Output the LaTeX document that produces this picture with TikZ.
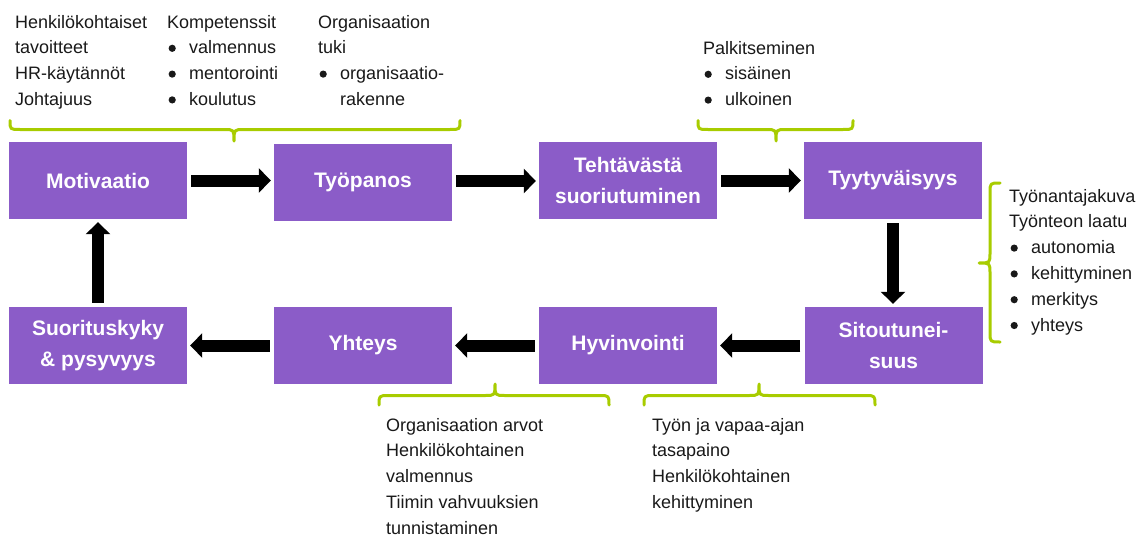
\documentclass[tikz,border=0pt]{standalone}
\usepackage{fontspec}
\setmainfont{Liberation Sans}
\usetikzlibrary{arrows.meta}
\definecolor{boxpurple}{RGB}{139,92,200}
\definecolor{bracegreen}{RGB}{168,204,0}
\definecolor{txt}{RGB}{25,25,25}
\newcommand\bul{\makebox[22pt][l]{\hspace{1.4pt}\raisebox{1.9pt}{\tikz\fill[txt] (0,0) circle (3.6pt);}}}
\newcommand\nob{\makebox[22pt][l]{}}
\newcommand\hbrace[6]{\draw[bracestyle] (#1,#4) .. controls (#1,#5) .. (#1+10,#5) -- (#3-10,#5) .. controls (#3,#5) .. (#3,#6) .. controls (#3,#5) .. (#3+10,#5) -- (#2-10,#5) .. controls (#2,#5) .. (#2,#4);}
\begin{document}
\begin{tikzpicture}[x=1pt,y=-1pt,
  box/.style={fill=boxpurple, minimum width=178pt, minimum height=77pt, inner sep=0pt, text=white, align=center, font=\fontsize{21}{31}\selectfont\bfseries},
  fat/.style={line width=12pt, -{Triangle[length=12pt,width=24pt]}, shorten <=4pt, shorten >=3pt},
  bracestyle/.style={draw=bracegreen, line width=3pt, line join=round, line cap=round},
  lbl/.style={inner sep=0pt, anchor=base west, align=left, text=txt, font=\fontsize{18}{25.8}\selectfont}]
\useasboundingbox (0,0) rectangle (1144,538);

% boxes
\node[box] (mot) at (98,180.5) {Motivaatio};
\node[box] (tyo) at (363,182.5) {Työpanos};
\node[box] (teh) at (628,180.5) {Tehtävästä\\suoriutuminen};
\node[box] (tyy) at (893,180.5) {Tyytyväisyys};
\node[box] (sit) at (893.5,345.5) {Sitoutunei-\\suus};
\node[box] (hyv) at (628,345.5) {Hyvinvointi};
\node[box] (yht) at (363,345.5) {Yhteys};
\node[box] (suo) at (98,345.5) {Suorituskyky\\\& pysyvyys};

% arrows
\draw[fat] (mot.east) -- (mot.east -| tyo.west);
\draw[fat] (tyo.east |- 0,181) -- (teh.west |- 0,181);
\draw[fat] (teh.east) -- (teh.east -| tyy.west);
\draw[fat] (tyy.south) -- (tyy.south |- sit.north);
\draw[fat] (sit.west) -- (sit.west -| hyv.east);
\draw[fat] (hyv.west) -- (hyv.west -| yht.east);
\draw[fat] (yht.west) -- (yht.west -| suo.east);
\draw[fat] (suo.north) -- (mot.south);

% braces
\hbrace{10}{460}{234}{120.5}{129.5}{141}
\hbrace{698}{853}{776}{120.5}{129.5}{141}
\hbrace{379}{609}{495}{405}{395.5}{384}
\hbrace{644}{875}{759}{405}{395.5}{384}
\draw[bracestyle] (1000,183) .. controls (990,183) .. (990,193) -- (990,253) .. controls (990,263) .. (979,263) .. controls (990,263) .. (990,273) -- (990,332) .. controls (990,342) .. (1000,342);

% texts (anchored at the baseline of their last line)
\node[lbl] (t1) at (15,105.4) {Henkilökohtaiset\\tavoitteet\\HR-käytännöt\\Johtajuus};
\node[lbl] (t2) at (167,105.4) {Kompetenssit\\\bul valmennus\\\bul mentorointi\\\bul koulutus};
\node[lbl] (t3) at (318,105.4) {Organisaation\\tuki\\\bul organisaatio-\\\nob rakenne};
\node[lbl] (t4) at (703,105.6) {Palkitseminen\\\bul sisäinen\\\bul ulkoinen};
\node[lbl] (t5) at (1009,331) {Työnantajakuva\\Työnteon laatu\\\bul autonomia\\\bul kehittyminen\\\bul merkitys\\\bul yhteys};
\node[lbl] (t6) at (386,534.2) {Organisaation arvot\\Henkilökohtainen\\valmennus\\Tiimin vahvuuksien\\tunnistaminen};
\node[lbl] (t7) at (652,508.4) {Työn ja vapaa-ajan\\tasapaino\\Henkilökohtainen\\kehittyminen};
\end{tikzpicture}
\end{document}
